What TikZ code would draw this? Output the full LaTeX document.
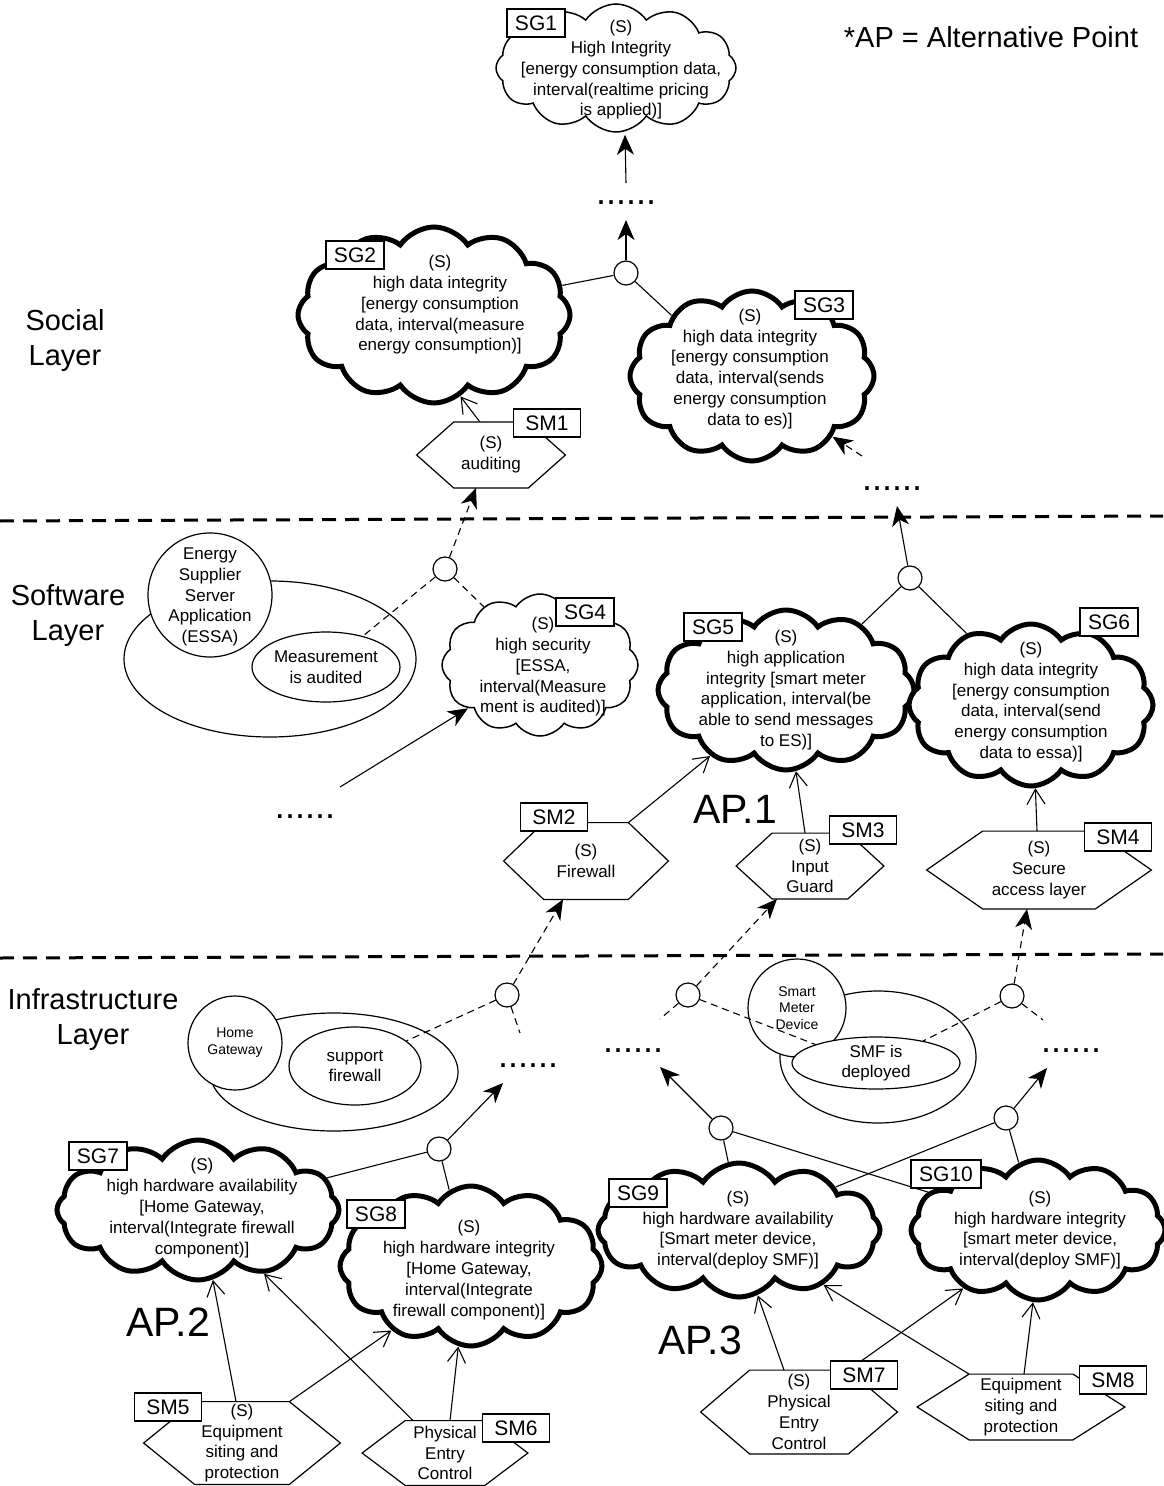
\documentclass[tikz,border=0pt]{standalone}
\usepackage{fontspec}
\setmainfont{Liberation Sans}
\usetikzlibrary{shapes.symbols,shapes.geometric,arrows.meta}

% outline of a hexagonal mechanism node: #1 node name, #2 horizontal slant
\newcommand\hexoutline[2]{%
  \draw[hexline] ([xshift=#2]#1.north west) -- ([xshift=-#2]#1.north east)
    -- (#1.east) -- ([xshift=-#2]#1.south east) -- ([xshift=#2]#1.south west)
    -- (#1.west) -- cycle;}

\begin{document}
\begin{tikzpicture}[x=0.5pt,y=-0.5pt,
  every node/.style={inner sep=0pt},
  body/.style={font=\fontsize{8.5}{10.4}\selectfont, align=center},
  small/.style={font=\fontsize{7}{8.4}\selectfont, align=center},
  goal/.style={cloud, cloud puffs=12, cloud puff arc=112, cloud ignores aspect,
    draw, fill=white, line width=2.5pt},
  softgoal/.style={goal, line width=0.75pt},
  tag/.style={draw, fill=white, line width=0.7pt, font=\fontsize{10.5}{12}\selectfont,
    inner xsep=4pt, minimum height=14pt, minimum width=29pt},
  smtag/.style={tag, minimum width=33.5pt},
  hexline/.style={line width=0.6pt},
  orjoin/.style={circle, draw, fill=white, line width=0.6pt, minimum size=12pt},
  entity/.style={circle, draw, fill=white, line width=0.6pt},
  region/.style={ellipse, draw, fill=white, line width=0.6pt},
  link/.style={line width=0.55pt},
  weak/.style={link, dash pattern=on 3.5pt off 2.5pt},
  solidhead/.style={-{Stealth[length=10pt,width=8.5pt,inset=3pt]}},
  openhead/.style={-{Straight Barb[length=7.5pt,width=9pt]}},
  layerline/.style={line width=1.5pt, dash pattern=on 7pt off 4.5pt},
  layername/.style={font=\fontsize{14.5}{17.5}\selectfont, align=center},
  apname/.style={font=\fontsize{20.5}{24}\selectfont},
  more/.style={font=\fontsize{18}{20}\selectfont},
]
\useasboundingbox (0,0) rectangle (1163,1486);

% layer separators
\draw[layerline] (0,521) -- (1163,516);
\draw[layerline] (0,958) -- (1163,954);

\node[layername] (lsocial) at (65,341) {Social\\Layer};
\node[layername] (lsoftware) at (68,616) {Software\\Layer};
\node[layername] (linfra) at (93,1020) {Infrastructure\\Layer};
\node[layername] (legend) at (991,37) {*AP = Alternative Point};

% actors and their scopes
\node[region, minimum width=146pt, minimum height=78pt] (essascope) at (270,659) {};
\node[entity, minimum size=62pt] (essa) at (210,595) {};
\node[body] (essat) at (210,597) {Energy\\Supplier\\Server\\Application\\(ESSA)};
\node[region, body, minimum width=74pt, minimum height=35pt] (meas) at (326,667) {Measurement\\is audited};

\node[region, minimum width=124pt, minimum height=59pt] (hgscope) at (334,1072) {};
\node[entity, small, minimum size=47pt] (hg) at (235,1043) {Home\\Gateway};
\node[region, body, minimum width=66pt, minimum height=39pt] (fwall) at (355,1066) {support\\firewall};

\node[region, minimum width=98pt, minimum height=66pt] (smscope) at (878,1057) {};
\node[entity, small, minimum size=49pt] (smd) at (797,1008) {Smart\\Meter\\Device};
\node[region, body, minimum width=84pt, minimum height=26pt] (smf) at (876,1063) {SMF is\\deployed};

% goals
\node[softgoal, minimum width=120pt, minimum height=64pt] (sg1) at (616,68) {};
\node[goal, minimum width=136pt, minimum height=88pt] (sg2) at (434,315) {};
\node[goal, minimum width=122pt, minimum height=85pt] (sg3) at (752,376) {};
\node[softgoal, minimum width=98pt, minimum height=71pt] (sg4) at (540,665) {};
\node[goal, minimum width=128pt, minimum height=80pt] (sg5) at (786,690) {};
\node[goal, minimum width=122pt, minimum height=81pt] (sg6) at (1031,705) {};
\node[goal, minimum width=141pt, minimum height=70pt] (sg7) at (198,1210) {};
\node[goal, minimum width=131pt, minimum height=80pt] (sg8) at (471,1266) {};
\node[goal, minimum width=141pt, minimum height=67pt] (sg9) at (739,1230) {};
\node[goal, minimum width=127pt, minimum height=70pt] (sg10) at (1038,1230) {};

\node[body] (sg1t) at (621,70) {(S)\\High Integrity\\{}[energy consumption data,\\interval(realtime pricing\\is applied)]};
\node[body] (sg2t) at (440,305) {(S)\\high data integrity\\{}[energy consumption\\data, interval(measure\\energy consumption)]};
\node[body] (sg3t) at (750,369) {(S)\\high data integrity\\{}[energy consumption\\data, interval(sends\\energy consumption\\data to es)]};
\node[body] (sg4t) at (543,667) {(S)\\high security\\{}[ESSA,\\interval(Measure\\ment is audited)]};
\node[body] (sg5t) at (786,690) {(S)\\high application\\integrity [smart meter\\application, interval(be\\able to send messages\\to ES)]};
\node[body] (sg6t) at (1031,702) {(S)\\high data integrity\\{}[energy consumption\\data, interval(send\\energy consumption\\data to essa)]};
\node[body] (sg7t) at (202,1208) {(S)\\high hardware availability\\{}[Home Gateway,\\interval(Integrate firewall\\component)]};
\node[body] (sg8t) at (469,1270) {(S)\\high hardware integrity\\{}[Home Gateway,\\interval(Integrate\\firewall component)]};
\node[body] (sg9t) at (738,1230) {(S)\\high hardware availability\\{}[Smart meter device,\\interval(deploy SMF)]};
\node[body] (sg10t) at (1040,1230) {(S)\\high hardware integrity\\{}[smart meter device,\\interval(deploy SMF)]};

% mechanisms
\node[body, minimum width=74pt, minimum height=32.5pt] (sm1) at (491,455) {(S)\\auditing};
\hexoutline{sm1}{18.5pt}
\node[body, minimum width=82pt, minimum height=38pt] (sm2) at (586,861) {(S)\\Firewall};
\hexoutline{sm2}{20pt}
\node[body, minimum width=73.5pt, minimum height=32.5pt] (sm3) at (810,866) {(S)\\Input\\Guard};
\hexoutline{sm3}{18pt}
\node[body, minimum width=112pt, minimum height=38.5pt] (sm4) at (1039,870) {(S)\\Secure\\access layer};
\hexoutline{sm4}{28pt}
\node[body, minimum width=98pt, minimum height=41pt] (sm5) at (242,1443) {(S)\\Equipment\\siting and\\protection};
\hexoutline{sm5}{25.5pt}
\node[body, minimum width=82.5pt, minimum height=32pt] (sm6) at (445,1453) {Physical\\Entry\\Control};
\hexoutline{sm6}{21.5pt}
\node[body, minimum width=98pt, minimum height=41.5pt] (sm7) at (799,1412) {(S)\\Physical\\Entry\\Control};
\hexoutline{sm7}{24.5pt}
\node[body, minimum width=103.5pt, minimum height=32.5pt] (sm8) at (1021,1407) {Equipment\\siting and\\protection};
\hexoutline{sm8}{26pt}

% continuation marks
\node[more] (dots1) at (626,203) {......};
\node[more] (dots2) at (892,489) {......};
\node[more] (dots3) at (305,817) {......};
\node[more] (dots4) at (528,1066) {......};
\node[more] (dots5) at (1071,1051) {......};
\node[more] (dots6) at (633,1051) {......};

% decomposition points
\node[orjoin] (or1) at (626,273) {};
\node[orjoin] (or2) at (910,578) {};
\node[orjoin] (or3) at (445,569) {};
\node[orjoin] (or4) at (507,995) {};
\node[orjoin] (or5) at (688,995) {};
\node[orjoin] (or6) at (1012,996) {};
\node[orjoin] (or7) at (439,1149) {};
\node[orjoin] (or8) at (721,1128) {};
\node[orjoin] (or9) at (1006,1118) {};

% social layer links
\draw[link, solidhead] ([yshift=10pt]dots1.center) -- ([xshift=4.5pt,yshift=-1pt]sg1.south);
\draw[link, solidhead] (or1) -- ([yshift=-8.5pt]dots1.center);
\draw[link] (or1) -- (sg2.13);
\draw[link] (or1) -- (sg3.143);
\draw[link, openhead] ([xshift=-5.5pt]sm1.north) -- (sg2.-72);
\draw[weak, solidhead] ([xshift=-15pt,yshift=16.5pt]dots2.center) -- (sg3.-37);
\draw[link, solidhead] (or2) -- ([xshift=2.5pt,yshift=-8.5pt]dots2.center);

% software layer links
\draw[weak, solidhead] (or3) -- ([xshift=-7.5pt]sm1.south);
\draw[weak] (or3) -- (meas.40);
\draw[weak] (or3) -- (sg4.134);
\draw[link, solidhead] ([xshift=17.5pt,yshift=15pt]dots3.center) -- (sg4.211);
\draw[link] (or2) -- (sg5.41);
\draw[link] (or2) -- (sg6.132);
\draw[link, openhead] ([xshift=-20pt]sm2.north east) -- (sg5.221);
\draw[link, openhead] ([xshift=-2.5pt]sm3.north) -- (sg5.-83);
\draw[link, openhead] ([xshift=-1pt]sm4.north) -- (sg6.-87);

% infrastructure layer links
\draw[weak, solidhead] (or4) -- ([xshift=-11.5pt]sm2.south);
\draw[weak, solidhead] (or5) -- ([xshift=-16.5pt]sm3.south);
\draw[weak, solidhead] (or6) -- ([xshift=-6pt]sm4.south);
\draw[weak] (or4) -- (fwall.26);
\draw[weak] (or4) -- ([xshift=-4pt,yshift=16.5pt]dots4.center);
\draw[weak] (or5) -- ([xshift=13.5pt,yshift=16pt]dots6.center);
\draw[weak] (or5) -- (smf.163);
\draw[weak] (or6) -- (smf.25);
\draw[weak] (or6) -- ([xshift=-14pt,yshift=15.5pt]dots5.center);
\draw[link, solidhead] (or7) -- ([xshift=-12.5pt,yshift=-8.5pt]dots4.center);
\draw[link, solidhead] (or8) -- ([xshift=13.5pt,yshift=-8pt]dots6.center);
\draw[link, solidhead] (or9) -- ([xshift=-12pt,yshift=-8.5pt]dots5.center);
\draw[link] (or7) -- (sg7.14);
\draw[link] (or7) -- (sg8.106);
\draw[link] (or8) -- (sg9.99);
\draw[link] (or8) -- (sg10.161);
\draw[link] (or9) -- (sg9.24);
\draw[link] (or9) -- (sg10.106);
\draw[link, openhead] ([xshift=-3pt]sm5.north) -- (sg7.-78);
\draw[link, openhead] ([xshift=-25.5pt]sm5.north east) -- (sg8.219);
\draw[link, openhead] ([xshift=25.5pt]sm6.north west) -- (sg7.-44);
\draw[link, openhead] ([xshift=2.5pt]sm6.north) -- (sg8.-99);
\draw[link, openhead] ([xshift=-7.5pt]sm7.north) -- (sg9.-74);
\draw[link, openhead] ([xshift=-24.5pt]sm7.north east) -- (sg10.218);
\draw[link, openhead] ([xshift=26pt]sm8.north west) -- (sg9.-33);
\draw[link, openhead] ([xshift=1.5pt]sm8.north) -- (sg10.-94);

% identifiers
\node[tag] (tsg1) at (536,23) {SG1};
\node[tag] (tsg2) at (355,255) {SG2};
\node[tag] (tsg3) at (824,305) {SG3};
\node[tag] (tsg4) at (585,612) {SG4};
\node[tag] (tsg5) at (713,627) {SG5};
\node[tag] (tsg6) at (1109,622) {SG6};
\node[tag] (tsg7) at (98,1156) {SG7};
\node[tag] (tsg8) at (376,1214) {SG8};
\node[tag] (tsg9) at (638,1193) {SG9};
\node[tag] (tsg10) at (946,1174) {SG10};
\node[smtag] (tsm1) at (547,423) {SM1};
\node[smtag] (tsm2) at (554,817) {SM2};
\node[smtag] (tsm3) at (863,830) {SM3};
\node[smtag] (tsm4) at (1118,837) {SM4};
\node[smtag] (tsm5) at (168,1407) {SM5};
\node[smtag] (tsm6) at (516,1428) {SM6};
\node[smtag] (tsm7) at (864,1375) {SM7};
\node[smtag] (tsm8) at (1113,1380) {SM8};

% alternative points
\node[apname] (ap1) at (735,809) {AP.1};
\node[apname] (ap2) at (168,1322) {AP.2};
\node[apname] (ap3) at (700,1340) {AP.3};
\end{tikzpicture}
\end{document}
